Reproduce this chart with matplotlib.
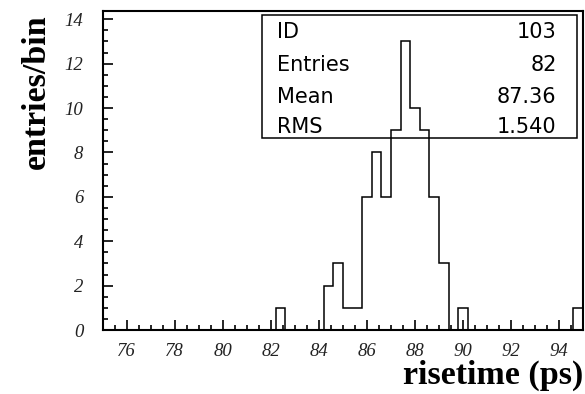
import numpy as np
import matplotlib
matplotlib.use("Agg")
import matplotlib.pyplot as plt
from matplotlib.patches import Rectangle
from matplotlib.ticker import MultipleLocator

# histogram: 50 bins of 0.4 ps between 75 and 95
x_min = 75
x_max = 95
n_bins = 50
counts = [0, 0, 0, 0, 0, 0, 0, 0, 0, 0,
          0, 0, 0, 0, 0, 0, 0, 0, 1, 0,
          0, 0, 0, 2, 3, 1, 1, 6, 8, 6,
          9, 13, 10, 9, 6, 3, 0, 1, 0, 0,
          0, 0, 0, 0, 0, 0, 0, 0, 0, 1]
y_max = 14.37

# stats box
stat_names = ["ID", "Entries", "Mean", "RMS"]
stat_values = ["103", "82", "87.36", "1.540"]

edges = np.linspace(x_min, x_max, n_bins + 1)

fig = plt.figure(figsize=(5.85, 3.94), dpi=100)
ax = fig.add_axes([0.1756, 0.1624, 0.821, 0.8096])

ax.stairs(counts, edges, color="black", linewidth=1.1, baseline=0)

ax.set_xlim(x_min, x_max)
ax.set_ylim(0, y_max)

ax.xaxis.set_major_locator(MultipleLocator(2))
ax.xaxis.set_minor_locator(MultipleLocator(0.5))
ax.yaxis.set_major_locator(MultipleLocator(2))
ax.yaxis.set_minor_locator(MultipleLocator(0.5))
ax.set_xticks(np.arange(76, 95, 2))

ax.tick_params(which="both", direction="in", top=False, right=False, width=1.2)
ax.tick_params(which="major", length=7.2)
ax.tick_params(which="minor", length=3.6)
ax.tick_params(axis="x", which="major", pad=9)
ax.tick_params(axis="y", which="major", pad=14)

for lab in ax.get_xticklabels() + ax.get_yticklabels():
    lab.set_fontfamily("Liberation Serif")
    lab.set_fontstyle("italic")
    lab.set_fontsize(13.5)
    lab.set_color("#222222")

for s in ax.spines.values():
    s.set_linewidth(1.5)

# stats box (drawn unfilled, histogram shows through)
box = Rectangle((0.331, 0.603), 0.6565, 0.384, transform=ax.transAxes,
                fill=False, edgecolor="black", linewidth=1.1, zorder=5)
ax.add_patch(box)
row_y = [0.934, 0.831, 0.730, 0.636]
for name, val, yy in zip(stat_names, stat_values, row_y):
    ax.text(0.362, yy, name, transform=ax.transAxes, ha="left", va="center",
            fontsize=15, family="DejaVu Sans", zorder=6)
    ax.text(0.945, yy, val, transform=ax.transAxes, ha="right", va="center",
            fontsize=15, family="DejaVu Sans", zorder=6)

fig.text(36 / 585, 1 - 92 / 394, "entries/bin", rotation=90, ha="center",
         va="center", fontsize=24.5, fontweight="bold", family="Liberation Serif")
fig.text(583 / 585, 1 - 384 / 394, "risetime (ps)", ha="right", va="baseline",
         fontsize=24.5, fontweight="bold", family="Liberation Serif")

fig.savefig("out.png", dpi=100)
